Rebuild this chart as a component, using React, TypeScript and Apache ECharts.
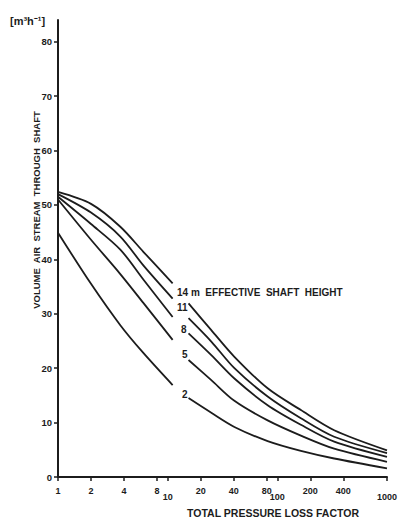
import React, { useEffect, useRef } from "react";
import * as echarts from "echarts";

const xTicks = [1, 2, 4, 8, 10, 20, 40, 80, 100, 200, 400, 1000];
const xLowTicks = [10, 100, 1000];
const yTicks = [0, 10, 20, 30, 40, 50, 60, 70, 80];

const heights = ["14", "11", "8", "5", "2"];

const leftX = [1, 2, 3.7, 6, 11.1];
const left14 = [52.4, 50.2, 46.0, 41.4, 35.6];
const left11 = [52.0, 48.6, 44.2, 38.9, 32.8];
const left8 = [51.5, 46.5, 41.8, 36.3, 29.4];
const left5 = [51.0, 43.6, 37.3, 32.0, 25.2];
const left2 = [44.9, 35.5, 27.9, 22.8, 16.9];

const rightX = [15.5, 25, 40.6, 81.6, 164, 330, 1000];
const right14 = [31.9, 27.0, 22.1, 16.3, 12.3, 8.6, 4.9];
const right11 = [29.2, 24.9, 20.0, 14.8, 10.8, 7.4, 4.4];
const right8 = [26.4, 22.4, 18.1, 13.2, 9.6, 6.5, 3.7];
const right5 = [21.5, 17.8, 14.0, 10.4, 7.6, 5.2, 2.8];
const right2 = [14.5, 11.8, 9.2, 6.6, 4.8, 3.4, 1.6];

const leftSets = [left14, left11, left8, left5, left2];
const rightSets = [right14, right11, right8, right5, right2];

const INK = "#1c1c1c";
const FONT = "'Liberation Sans', Arial, sans-serif";

export default function App() {
  const ref = useRef<HTMLDivElement>(null);
  useEffect(() => {
    if (!ref.current) return;
    const chart = echarts.init(ref.current, null, { renderer: "svg" });
    const series: any[] = [];
    heights.forEach((h, i) => {
      series.push({
        type: "line",
        name: h + " m left",
        data: leftX.map((x, j) => [x, leftSets[i][j]]),
        smooth: 0.3,
        showSymbol: false,
        lineStyle: { color: INK, width: 1.8 },
      });
      series.push({
        type: "line",
        name: h + " m right",
        data: rightX.map((x, j) => [x, rightSets[i][j]]),
        smooth: 0.3,
        showSymbol: false,
        lineStyle: { color: INK, width: 1.8 },
      });
    });
    const labelY = [292.5, 307.5, 329, 354.5, 394.5];
    const labelX = [177, 177, 181, 182, 182];
    const graphic: any[] = [
      {
        type: "text",
        x: 10,
        y: 21,
        style: { text: "[m³h⁻¹]", font: `bold 11px ${FONT}`, fill: INK, verticalAlign: "middle" },
      },
      {
        type: "text",
        x: 36,
        y: 210,
        rotation: Math.PI / 2,
        style: {
          text: "VOLUME  AIR  STREAM  THROUGH  SHAFT",
          font: `bold 9.5px ${FONT}`,
          fill: INK,
          align: "center",
          verticalAlign: "middle",
        },
      },
      {
        type: "text",
        x: 273,
        y: 513,
        style: {
          text: "TOTAL PRESSURE LOSS FACTOR",
          font: `bold 10.5px ${FONT}`,
          fill: INK,
          align: "center",
          verticalAlign: "middle",
        },
      },
    ];
    heights.forEach((h, i) => {
      graphic.push({
        type: "text",
        x: labelX[i],
        y: labelY[i],
        style: {
          text: i === 0 ? h + " m  EFFECTIVE  SHAFT  HEIGHT" : h,
          font: `bold 10px ${FONT}`,
          fill: INK,
          verticalAlign: "middle",
        },
      });
    });
    chart.setOption({
      animation: false,
      backgroundColor: "#ffffff",
      grid: { left: 58, right: 13, top: 20, bottom: 44 },
      xAxis: {
        type: "log",
        logBase: 10,
        min: 1,
        max: 1000,
        splitLine: { show: false },
        minorTick: { show: false },
        axisLine: { lineStyle: { color: INK, width: 2 } },
        axisTick: {
          customValues: xTicks,
          length: 4,
          lineStyle: { color: INK, width: 1.5 },
        },
        axisLabel: {
          customValues: xTicks,
          margin: 8,
          color: INK,
          fontFamily: FONT,
          fontWeight: "bold",
          fontSize: 9,
          formatter: (v: number) =>
            xLowTicks.indexOf(Math.round(v)) >= 0 ? `{low|${Math.round(v)}}` : `{n|${Math.round(v)}}`,
          rich: {
            n: { fontFamily: FONT, fontWeight: "bold", fontSize: 9, color: INK, lineHeight: 11 },
            low: {
              fontFamily: FONT,
              fontWeight: "bold",
              fontSize: 9,
              color: INK,
              lineHeight: 11,
              padding: [12, 0, 0, 0],
            },
          },
        },
      },
      yAxis: {
        type: "value",
        min: 0,
        max: 84,
        splitLine: { show: false },
        axisLine: { show: true, lineStyle: { color: INK, width: 2 } },
        axisTick: {
          show: true,
          customValues: yTicks,
          length: 4,
          lineStyle: { color: INK, width: 1.5 },
        },
        axisLabel: {
          customValues: yTicks,
          margin: 6,
          color: INK,
          fontFamily: FONT,
          fontWeight: "bold",
          fontSize: 9.5,
        },
      },
      series,
      graphic,
    });
    return () => chart.dispose();
  }, []);
  return <div ref={ref} style={{ width: 400, height: 521, position: "absolute", left: 0, top: 0 }} />;
}
